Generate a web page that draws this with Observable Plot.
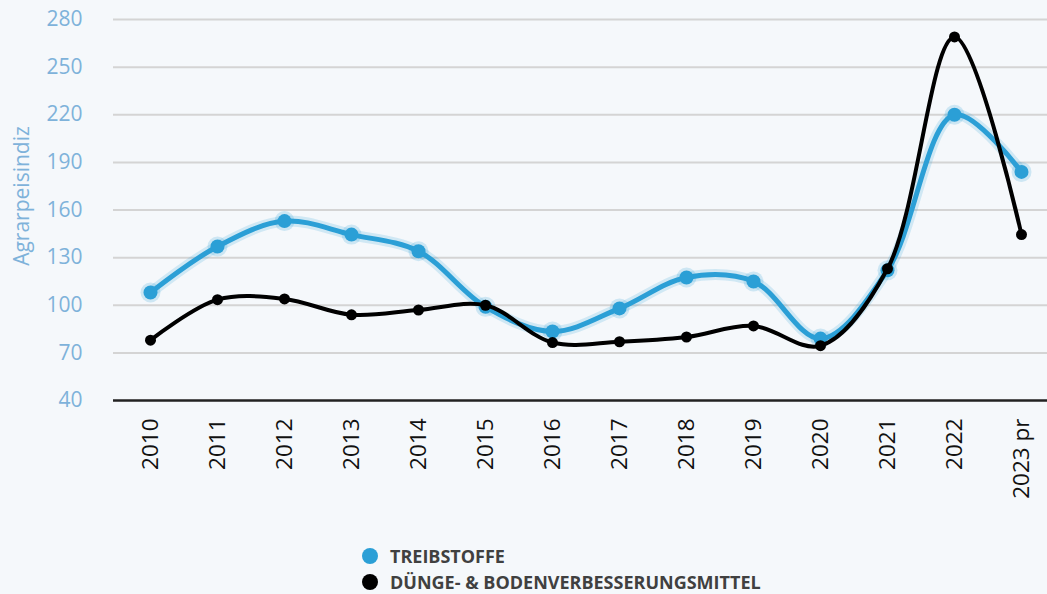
<!DOCTYPE html>
<html>
<head>
<meta charset="utf-8">
<script src="https://cdn.jsdelivr.net/npm/d3@7"></script>
<script src="https://cdn.jsdelivr.net/npm/@observablehq/plot@0.6"></script>
<style>
  html, body { margin: 0; padding: 0; background: #f5f8fb; }
  body { width: 1047px; height: 594px; overflow: hidden; font-family: "Open Sans", sans-serif; }
  #chart svg { display: block; background: transparent; }
  .legend { position: relative; height: 64px; }
  .legend .item { position: absolute; left: 362px; display: flex; align-items: center; font-weight: bold; font-size: 18px; color: #404040; line-height: 20px; }
  .legend .dot { width: 16px; height: 16px; border-radius: 50%; margin-right: 12px; }
</style>
</head>
<body>
<div id="chart"></div>
<div class="legend" id="legend"></div>
<script>
const years = ["2010","2011","2012","2013","2014","2015","2016","2017","2018","2019","2020","2021","2022","2023 pr"];
const treibstoffe = [108, 137, 153, 144.5, 134, 99, 83.5, 98, 117.5, 115, 79, 122, 220, 184];
const duenge = [78, 103.5, 104, 94, 97, 100, 76.5, 77, 80, 87, 74.5, 123, 269, 144.5];
const yTicks = [40, 70, 100, 130, 160, 190, 220, 250, 280];
const seriesNames = ["TREIBSTOFFE", "DÜNGE- & BODENVERBESSERUNGSMITTEL"];
const seriesColors = ["#2b9fd6", "#000000"];
const yLabel = "Agrarpeisindiz";

const rowsT = years.map((y, i) => ({year: y, value: treibstoffe[i]}));
const rowsD = years.map((y, i) => ({year: y, value: duenge[i]}));

const chart = Plot.plot({
  width: 1047,
  height: 530,
  marginLeft: 113,
  marginRight: 0,
  marginTop: 19,
  marginBottom: 130,
  style: {fontFamily: "'Open Sans', sans-serif", background: "transparent"},
  x: {type: "point", domain: years, range: [147, 1024], padding: 0},
  y: {domain: [40, 280]},
  marks: [
    Plot.gridY(yTicks.slice(1), {stroke: "#d4d4d4", strokeOpacity: 1, strokeWidth: 2}),
    Plot.ruleY([40], {stroke: "#222", strokeWidth: 2.5}),
    Plot.axisY(yTicks, {tickSize: 0, tickPadding: 31, fontSize: 21, fill: "#7eb2da", label: null}),
    Plot.text([yLabel], {frameAnchor: "left", textAnchor: "middle", dx: -91, dy: -14, rotate: -90, fontSize: 21, fill: "#7eb2da"}),
    Plot.axisX({tickSize: 0, tickPadding: 18, tickRotate: -90, fontSize: 22.5, fill: "#111", label: null}),
    Plot.line(rowsT, {x: "year", y: "value", curve: "catmull-rom", stroke: seriesColors[0], strokeWidth: 11, strokeOpacity: 0.18}),
    Plot.line(rowsT, {x: "year", y: "value", curve: "catmull-rom", stroke: seriesColors[0], strokeWidth: 5}),
    Plot.dot(rowsT, {x: "year", y: "value", r: 10, fill: seriesColors[0], fillOpacity: 0.2}),
    Plot.dot(rowsT, {x: "year", y: "value", r: 7, fill: seriesColors[0]}),
    Plot.line(rowsD, {x: "year", y: "value", curve: "catmull-rom", stroke: seriesColors[1], strokeWidth: 4}),
    Plot.dot(rowsD, {x: "year", y: "value", r: 5.5, fill: seriesColors[1]})
  ]
});
document.getElementById("chart").appendChild(chart);

const legend = document.getElementById("legend");
seriesNames.forEach((name, i) => {
  const item = document.createElement("div");
  item.className = "item";
  item.style.top = (i === 0 ? 16 : 42) + "px";
  const dot = document.createElement("span");
  dot.className = "dot";
  dot.style.background = seriesColors[i];
  const label = document.createElement("span");
  label.textContent = name;
  item.appendChild(dot);
  item.appendChild(label);
  legend.appendChild(item);
});
</script>
</body>
</html>
